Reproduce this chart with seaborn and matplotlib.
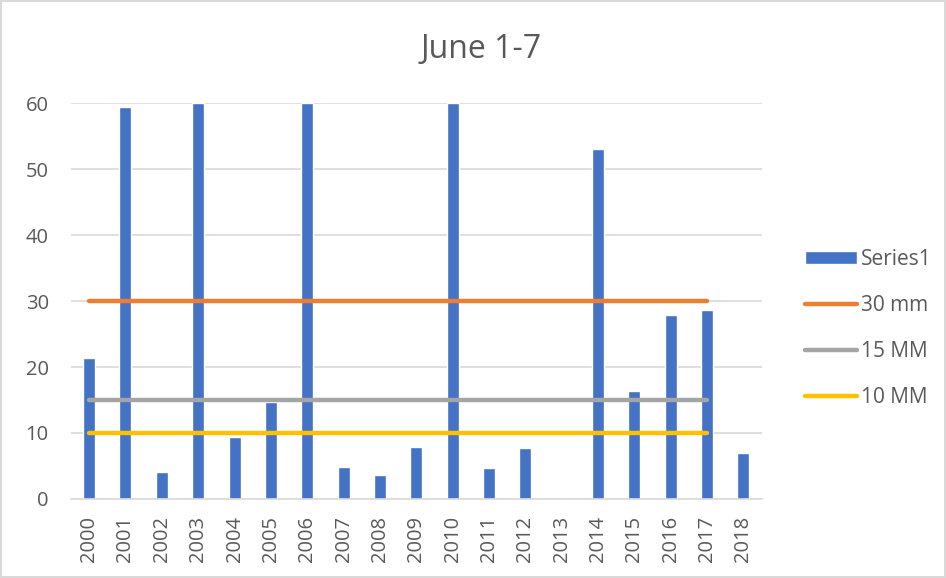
import matplotlib
matplotlib.use("Agg")
import matplotlib.pyplot as plt
import seaborn as sns
import pandas as pd
from matplotlib.patches import Patch
from matplotlib.lines import Line2D

# data (bars for 2003, 2006, 2010 run past the 60 cap)
years = ['2000', '2001', '2002', '2003', '2004', '2005', '2006', '2007', '2008', '2009',
         '2010', '2011', '2012', '2013', '2014', '2015', '2016', '2017', '2018']
series1 = [21.4, 59.4, 4.1, 60, 9.4, 14.7, 60, 4.8, 3.7, 7.9,
           60, 4.7, 7.7, 0, 53.0, 16.4, 27.9, 28.7, 6.9]

# threshold lines run from 2000 to 2017
line_years = years[:18]
mm30 = [30] * len(line_years)
mm15 = [15] * len(line_years)
mm10 = [10] * len(line_years)

bar_color = '#4472C4'
line_colors = {'30 mm': '#ED7D31', '15 MM': '#A5A5A5', '10 MM': '#FFC000'}
text_color = '#595959'

sns.set_theme(style='white')
plt.rcParams['font.family'] = ['Open Sans', 'DejaVu Sans']

df = pd.DataFrame({'year': years, 'value': series1})

fig = plt.figure(figsize=(9.46, 5.78), dpi=100)
fig.patch.set_edgecolor('#d9d9d9')
fig.patch.set_linewidth(1.5)
ax = fig.add_axes([0.075, 0.1367, 0.73, 0.685])

sns.barplot(data=df, x='year', y='value', color=bar_color, width=0.33,
            saturation=1, ax=ax, zorder=2)

pos = [years.index(y) for y in line_years]
for label, vals in zip(line_colors, [mm30, mm15, mm10]):
    ax.plot(pos, vals, color=line_colors[label], lw=3.2,
            solid_capstyle='round', zorder=3)

ax.set_ylim(0, 60)
ax.set_xlim(-0.5, len(years) - 0.5)
ax.set_yticks(range(0, 61, 10))
ax.yaxis.grid(True, color='#d9d9d9', lw=1.2, zorder=0)
ax.set_axisbelow(True)
for s in ['top', 'right', 'left']:
    ax.spines[s].set_visible(False)
ax.spines['bottom'].set_color('#d9d9d9')
ax.spines['bottom'].set_linewidth(1.2)

ax.set_xlabel('')
ax.set_ylabel('')
ax.tick_params(axis='y', length=0, labelsize=14.5, labelcolor=text_color, pad=16)
ax.tick_params(axis='x', length=0, labelsize=14.5, labelcolor=text_color, pad=12)
plt.setp(ax.get_xticklabels(), rotation=90)

# category boundary ticks below the axis
ax.set_xticks([i - 0.5 for i in range(len(years) + 1)], minor=True)
ax.tick_params(axis='x', which='minor', length=6, color='#d9d9d9', width=1.2, direction='out')

fig.suptitle('June 1-7', fontsize=23, color=text_color, x=0.509, y=0.915, va='center')

handles = [Patch(facecolor=bar_color, label='Series1')]
for label, c in line_colors.items():
    handles.append(Line2D([0], [0], color=c, lw=3.2, solid_capstyle='round', label=label))
leg = fig.legend(handles=handles, loc='center left', bbox_to_anchor=(0.851, 0.432),
                 frameon=False, fontsize=15, handlelength=2.5, handleheight=0.65,
                 labelspacing=1.2, handletextpad=0.2, borderpad=0, borderaxespad=0)
for t in leg.get_texts():
    t.set_color(text_color)

fig.savefig('out.png', dpi=100)
